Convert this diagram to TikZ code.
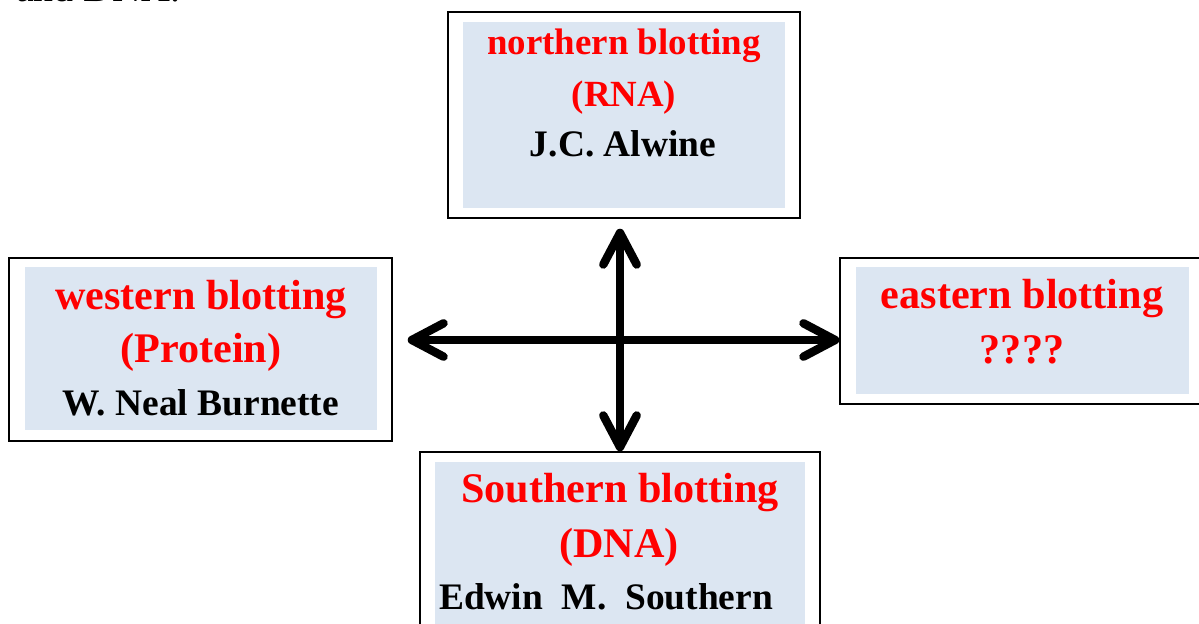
\documentclass[tikz,border=0pt]{standalone}
\usepackage{fontspec}
\setmainfont{Liberation Serif}
\usetikzlibrary{positioning, fit, arrows.meta}
\definecolor{panelBlue}{RGB}{220,230,242}
\definecolor{headRed}{RGB}{255,0,0}

\begin{document}
\begin{tikzpicture}[x=0.02cm, y=0.02cm,
    frame/.style={draw=black, line width=0.8pt, inner sep=0pt},
    panel/.style={fill=panelBlue, draw=none, inner sep=0pt},
    head/.style={anchor=base, text=headRed, font=\bfseries\fontsize{24}{28}\selectfont},
    smallhead/.style={head, font=\bfseries\fontsize{21}{25}\selectfont},
    who/.style={anchor=base, text=black, font=\bfseries\fontsize{21.3}{26}\selectfont},
    barb/.tip={Straight Barb[length=18pt, width=19pt, round]},
    biarrow/.style={line width=4.8pt, line cap=round, barb-barb}]
        \useasboundingbox (0,0) rectangle (1199,624);
        % text cut off above the picture
        \node[anchor=base west, font=\fontsize{22.7}{27}\selectfont] (cutText) at (10,622) {and DNA.};
        % the four boxes
        \node[frame, fit={(448,406) (800,612)}] (north) {};
        \node[panel, fit={(463,416) (785,602)}] (northPanel) {};
        \node[frame, fit={(9,183) (392,366)}] (west) {};
        \node[panel, fit={(25,194) (377,357)}] (westPanel) {};
        \node[frame, fit={(840,220) (1206,366)}] (east) {};
        \node[panel, fit={(856,230) (1189,357)}] (eastPanel) {};
        \node[frame, fit={(420,-12) (820,172)}] (south) {};
        \node[panel, fit={(435,-12) (805,162)}] (southPanel) {};
        % labels
        \node[smallhead] (northName) at (624,569) {northern blotting};
        \node[smallhead] (northMol) at (624,517) {(RNA)};
        \node[who] (northWho) at (623,467) {J.C. Alwine};
        \node[head] (westName) at (201,314) {western blotting};
        \node[head] (westMol) at (201,261) {(Protein)};
        \node[who] (westWho) at (201,208) {W. Neal Burnette};
        \node[head] (eastName) at (1022,315) {eastern blotting};
        \node[head] (eastMol) at (1022,260) {????};
        \node[head] (southName) at (620,121) {Southern blotting};
        \node[head] (southMol) at (619,66) {(DNA)};
        \node[who] (southWho) at (606,14) {Edwin\ \ M.\ \ Southern};
        % cross of arrows
        \coordinate (hub) at (620,284);
        \draw[biarrow] ([xshift=0.3cm]west.east |- hub) -- (east.west |- hub);
        \draw[biarrow] ([yshift=-0.2cm]north.south -| hub) -- (south.north -| hub);
      \end{tikzpicture}
\end{document}
